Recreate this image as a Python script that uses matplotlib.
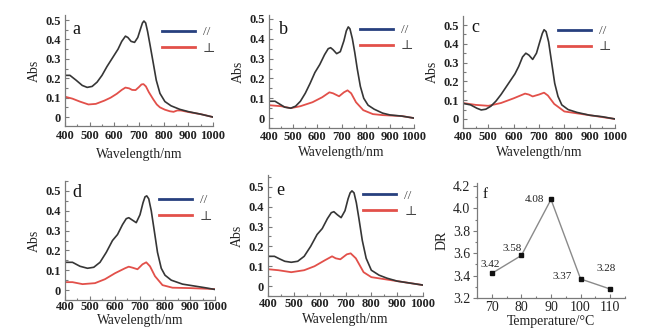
import matplotlib
matplotlib.use("Agg")
import matplotlib.pyplot as plt
from matplotlib.lines import Line2D
from matplotlib.ticker import MultipleLocator

plt.rcParams['font.family'] = ['Liberation Serif', 'DejaVu Serif']

# ---- absorption spectra (wavelength in nm, absorbance) ----
wl_a_par = [400, 420, 445, 470, 490, 510, 530, 550, 570, 585, 600, 615, 630, 645, 655, 668, 682, 695, 705, 714, 720, 727, 735, 745, 758, 770, 785, 805, 830, 865, 900, 950, 1000]
abs_a_par = [0.215, 0.215, 0.19, 0.163, 0.153, 0.158, 0.18, 0.215, 0.26, 0.29, 0.32, 0.35, 0.39, 0.417, 0.41, 0.39, 0.385, 0.41, 0.45, 0.485, 0.495, 0.485, 0.44, 0.37, 0.277, 0.19, 0.122, 0.08, 0.058, 0.04, 0.028, 0.015, 0.0]
wl_a_perp = [400, 430, 460, 495, 525, 560, 585, 610, 630, 645, 660, 672, 686, 700, 710, 718, 728, 740, 758, 772, 785, 805, 825, 840, 855, 870, 900, 950, 1000]
abs_a_perp = [0.105, 0.095, 0.08, 0.065, 0.068, 0.085, 0.1, 0.12, 0.14, 0.152, 0.148, 0.14, 0.139, 0.155, 0.168, 0.17, 0.158, 0.128, 0.091, 0.065, 0.05, 0.038, 0.03, 0.027, 0.034, 0.034, 0.026, 0.015, 0.0]

wl_b_par = [400, 425, 445, 465, 490, 510, 530, 550, 570, 590, 610, 630, 645, 655, 665, 680, 695, 710, 720, 728, 735, 745, 755, 765, 778, 792, 810, 835, 870, 900, 950, 1000]
abs_b_par = [0.085, 0.085, 0.07, 0.055, 0.05, 0.06, 0.085, 0.125, 0.175, 0.23, 0.27, 0.32, 0.35, 0.355, 0.345, 0.325, 0.335, 0.39, 0.44, 0.46, 0.45, 0.4, 0.33, 0.25, 0.16, 0.1, 0.065, 0.045, 0.025, 0.016, 0.01, 0.0]
wl_b_perp = [400, 450, 490, 530, 580, 620, 650, 665, 690, 710, 725, 740, 760, 790, 830, 870, 950, 1000]
abs_b_perp = [0.065, 0.06, 0.05, 0.06, 0.08, 0.105, 0.13, 0.125, 0.11, 0.13, 0.14, 0.125, 0.08, 0.04, 0.02, 0.015, 0.01, 0.0]

wl_c_par = [400, 430, 455, 472, 490, 510, 530, 550, 570, 590, 605, 620, 635, 648, 660, 675, 690, 703, 713, 720, 728, 738, 750, 762, 775, 790, 815, 850, 900, 950, 1000]
abs_c_par = [0.083, 0.075, 0.057, 0.048, 0.052, 0.068, 0.095, 0.13, 0.17, 0.21, 0.24, 0.28, 0.33, 0.35, 0.34, 0.317, 0.35, 0.41, 0.455, 0.475, 0.465, 0.41, 0.3, 0.19, 0.12, 0.075, 0.05, 0.035, 0.02, 0.012, 0.0]
wl_c_perp = [400, 450, 500, 550, 600, 645, 660, 675, 700, 720, 735, 760, 800, 850, 900, 1000]
abs_c_perp = [0.085, 0.075, 0.07, 0.085, 0.11, 0.135, 0.13, 0.12, 0.13, 0.14, 0.125, 0.08, 0.04, 0.03, 0.02, 0.0]

wl_d_par = [400, 430, 460, 490, 515, 540, 565, 590, 610, 630, 645, 655, 667, 685, 700, 712, 720, 727, 735, 745, 757, 770, 785, 800, 825, 870, 920, 960, 1000]
abs_d_par = [0.14, 0.14, 0.12, 0.11, 0.115, 0.14, 0.19, 0.25, 0.28, 0.33, 0.36, 0.365, 0.355, 0.34, 0.38, 0.44, 0.47, 0.475, 0.46, 0.4, 0.3, 0.19, 0.11, 0.075, 0.05, 0.03, 0.02, 0.012, 0.003]
wl_d_perp = [400, 430, 470, 520, 560, 600, 640, 655, 670, 690, 710, 725, 740, 760, 790, 830, 900, 1000]
abs_d_perp = [0.04, 0.04, 0.03, 0.035, 0.055, 0.085, 0.11, 0.118, 0.113, 0.105, 0.13, 0.14, 0.12, 0.07, 0.025, 0.012, 0.01, 0.005]

wl_e_par = [400, 425, 445, 465, 490, 515, 540, 565, 590, 610, 630, 645, 655, 668, 683, 698, 710, 718, 725, 733, 742, 752, 765, 780, 800, 830, 860, 900, 950, 1000]
abs_e_par = [0.15, 0.15, 0.137, 0.125, 0.12, 0.125, 0.15, 0.2, 0.26, 0.29, 0.34, 0.37, 0.375, 0.36, 0.345, 0.38, 0.44, 0.47, 0.48, 0.47, 0.42, 0.34, 0.23, 0.14, 0.08, 0.055, 0.04, 0.025, 0.015, 0.005]
wl_e_perp = [400, 440, 490, 540, 580, 620, 648, 662, 680, 705, 720, 740, 770, 800, 850, 900, 1000]
abs_e_perp = [0.085, 0.08, 0.07, 0.08, 0.10, 0.13, 0.15, 0.14, 0.135, 0.16, 0.165, 0.14, 0.07, 0.045, 0.035, 0.025, 0.005]

# ---- dichroic ratio versus temperature ----
temperature = [70, 80, 90, 100, 110]
dr_values = [3.42, 3.58, 4.08, 3.37, 3.28]
dr_labels = ["3.42", "3.58", "4.08", "3.37", "3.28"]

panel_letters = ["a", "b", "c", "d", "e"]
legend_labels = ["//", "\u22a5"]

BLACK = "#363636"
RED = "#e2504a"
BLUE = "#27407e"
SPINE = "#7a7a7a"
TEXT = "#222222"

fig = plt.figure(figsize=(6.71, 3.36), dpi=100)
W, H = 671.0, 336.0


def add_axes(left, right, top, bottom):
    return fig.add_axes([left / W, 1 - bottom / H, (right - left) / W, (bottom - top) / H])


# (left, right, top, bottom) pixel boxes, y limits, legend anchor, letter position,
# tick-label pad and x-label pad
spec_layout = [
    ((65, 213, 15, 126), (-0.046, 0.526), (0.655, 0.90), (0.05, 0.865), 3.0, 4.0),
    ((269, 414, 15, 128), (-0.05, 0.52), (0.625, 0.92), (0.07, 0.876), 2.0, 2.0),
    ((463, 615, 16, 128), (-0.048, 0.548), (0.625, 0.92), (0.055, 0.893), 2.0, 2.0),
    ((65, 215, 181, 300), (-0.05, 0.55), (0.625, 0.89), (0.05, 0.90), 0.8, 0.8),
    ((268, 423, 175, 296), (-0.05, 0.56), (0.615, 0.88), (0.055, 0.868), 1.5, 1.8),
]
spectra = [
    (wl_a_par, abs_a_par, wl_a_perp, abs_a_perp),
    (wl_b_par, abs_b_par, wl_b_perp, abs_b_perp),
    (wl_c_par, abs_c_par, wl_c_perp, abs_c_perp),
    (wl_d_par, abs_d_par, wl_d_perp, abs_d_perp),
    (wl_e_par, abs_e_par, wl_e_perp, abs_e_perp),
]


def style_axes(ax):
    for s in ("top", "right"):
        ax.spines[s].set_visible(False)
    for s in ("left", "bottom"):
        ax.spines[s].set_color(SPINE)
        ax.spines[s].set_linewidth(0.9)
    ax.tick_params(which="both", direction="in", color=SPINE, width=0.8)
    ax.tick_params(which="major", length=3)
    ax.tick_params(which="minor", length=1.8)
    ax.patch.set_alpha(0)


for (box, ylim, leg_anchor, letter_pos, tpad, lpad), (wp, ap, wq, aq), letter in zip(spec_layout, spectra, panel_letters):
    ax = add_axes(*box)
    style_axes(ax)
    ax.plot(wq, aq, color=RED, lw=1.3, solid_joinstyle="round")
    ax.plot(wp, ap, color=BLACK, lw=1.2, solid_joinstyle="round")
    ax.set_xlim(400, 1000)
    ax.set_ylim(*ylim)
    ax.xaxis.set_major_locator(MultipleLocator(100))
    ax.xaxis.set_minor_locator(MultipleLocator(50))
    ax.yaxis.set_minor_locator(MultipleLocator(0.05))
    ax.set_yticks([0, 0.1, 0.2, 0.3, 0.4, 0.5])
    ax.set_yticklabels(["0", "0.1", "0.2", "0.3", "0.4", "0.5"])
    ax.tick_params(axis="y", labelsize=9, pad=3)
    ax.tick_params(axis="x", labelsize=9, pad=tpad)
    for t in ax.get_xticklabels() + ax.get_yticklabels():
        t.set_fontweight("bold")
        t.set_color(TEXT)
    ax.set_xlabel("Wavelength/nm", fontsize=9.8, labelpad=lpad, color=TEXT)
    ax.set_ylabel("Abs", fontsize=10, labelpad=3, color=TEXT)
    ax.text(letter_pos[0], letter_pos[1], letter, transform=ax.transAxes,
            fontsize=13, va="center", ha="left", color="#111111")
    handles = [Line2D([], [], color=BLUE, lw=2.0), Line2D([], [], color=RED, lw=2.0)]
    ax.legend(handles, legend_labels, loc="upper left", bbox_to_anchor=leg_anchor,
              frameon=False, fontsize=9.5, handlelength=2.5, handletextpad=0.6,
              labelspacing=0.3, borderpad=0, borderaxespad=0,
              labelcolor="#444444")

# ---- panel f ----
axf = add_axes(477, 625, 183, 298)
style_axes(axf)
axf.tick_params(axis="y", which="both", direction="out")
axf.plot(temperature, dr_values, color="#8a8a8a", lw=1.0)
axf.plot(temperature, dr_values, ls="none", marker="s", ms=2.2, color="#111111")
axf.set_xlim(65, 115)
axf.set_ylim(3.2, 4.227)
axf.xaxis.set_major_locator(MultipleLocator(10))
axf.xaxis.set_minor_locator(MultipleLocator(5))
axf.yaxis.set_minor_locator(MultipleLocator(0.1))
axf.set_yticks([3.2, 3.4, 3.6, 3.8, 4.0, 4.2])
axf.set_yticklabels(["3.2", "3.4", "3.6", "3.8", "4.0", "4.2"])
axf.tick_params(labelsize=10, pad=2, labelcolor=TEXT)
axf.set_xlabel("Temperature/\u00b0C", fontsize=10, labelpad=1, color=TEXT)
axf.set_ylabel("DR", fontsize=10, labelpad=3, color=TEXT)
axf.text(0.04, 0.904, "f", transform=axf.transAxes, fontsize=11, va="center", color="#111111")

# label offsets in points from each marker
label_offsets = [(-1.5, 6.5), (-7, 5), (-5, 0), (-6.5, 1.5), (-3, 14.5)]
label_align = ["center", "center", "right", "right", "center"]
for x, y, s, off, ha in zip(temperature, dr_values, dr_labels, label_offsets, label_align):
    axf.annotate(s, (x, y), xytext=off, textcoords="offset points",
                 ha=ha, va="center", fontsize=8, color=TEXT)

fig.savefig("out.png", dpi=100)
